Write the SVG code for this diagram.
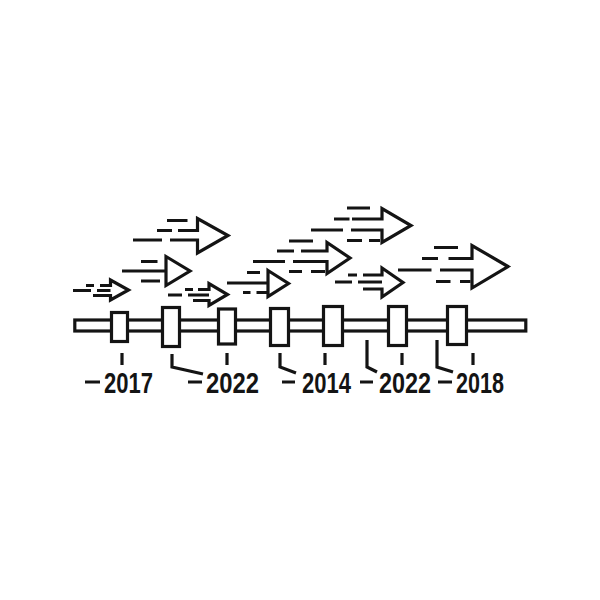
<svg xmlns="http://www.w3.org/2000/svg" width="600" height="600" viewBox="0 0 600 600">
<style>
.s{fill:none;stroke:#141414;stroke-width:3.2;stroke-linejoin:miter;stroke-linecap:butt}
.b{fill:#fff;stroke:#141414;stroke-width:3.2}
.t{font-family:"Liberation Sans",Arial,sans-serif;font-weight:bold;font-size:30px;fill:#141414}
</style>
<rect width="600" height="600" fill="#fff"/>
<g id="arrows">
<g id="arrowA">
<path class="s" d="M178,230.5 H197.5 V218.5 L228,235.5 L197.5,253 V240 H170"/>
<path class="s" d="M167,220.5 H187.5 M157,230.5 H172 M133,240 H162"/>
</g>
<g id="arrowB">
<path class="s" d="M166,256.5 L190,271 L166,285.5 Z"/>
<path class="s" d="M122,271 H166 M141,261.5 H157.5 M141,281 H160"/>
</g>
<g id="arrowC">
<path class="s" d="M100,285.5 H110.5 V280 L128.5,290 L110.5,300 V295.5 H93"/>
<path class="s" d="M86,285.5 H94 M73,290.5 H91 M97,290.5 H110.5"/>
</g>
<g id="arrowD">
<path class="s" d="M198,289.5 H209 V283.5 L227.5,294.5 L209,305.5 V300.5 H193"/>
<path class="s" d="M185,289.5 H193 M168,295 H182 M188,295 H209"/>
</g>
<g id="arrowE">
<path class="s" d="M268,270.5 L288.5,283.5 L268,296.5 Z"/>
<path class="s" d="M227,283 H268 M247,272.5 H260 M243,292.5 H250.5 M256.5,292.5 H268"/>
</g>
<g id="arrowF">
<path class="s" d="M301,251 H327 V242.5 L350,258 L327,273.5 V261.5 H293"/>
<path class="s" d="M289,241 H313 M277,251 H294 M253,261.5 H285 M289,271.5 H302 M311,271.5 H325"/>
</g>
<g id="arrowG">
<path class="s" d="M352,219 H382 V208.5 L411,225.5 L382,242.5 V230 H351"/>
<path class="s" d="M347,208 H370 M334,219 H349.5 M311,230 H343 M347,240.5 H362 M369,240.5 H380"/>
</g>
<g id="arrowH">
<path class="s" d="M363,275 H382 V268 L403,282.5 L382,297 V289 H363"/>
<path class="s" d="M348,275 H357 M335,282 H352 M358,282 H382"/>
</g>
<g id="arrowI">
<path class="s" d="M448.5,258.5 H472 V245.5 L508,266.5 L472,288 V270 H440"/>
<path class="s" d="M434,247.5 H458 M422,258.5 H438 M398,270 H431.5 M436,281.5 H450.5 M460,281.5 H470.5"/>
</g>
</g>
<g id="timeline">
<rect class="b" x="74.8" y="320" width="451" height="11"/>
</g>
<g id="connectors">
<path class="s" d="M122,353 V365 M227,353 V365 M325,353 V365 M402,353 V365 M473,353 V365"/>
<path class="s" d="M172,354 V367 L203,374 M280,353 V367 L296,373 M367,340 V367 L377,372 M437,340 V367 L453,372"/>
<path class="s" d="M85,382 H100 M188,382 H202 M282,382 H295 M360,382 H373 M438,382 H452"/>
</g>
<g id="node1"><rect class="b" x="111.5" y="312.5" width="16" height="29"/></g>
<g id="node2"><rect class="b" x="162.5" y="307.5" width="17" height="39"/></g>
<g id="node3"><rect class="b" x="218.5" y="309" width="17" height="35"/></g>
<g id="node4"><rect class="b" x="270.5" y="308.5" width="18" height="37"/></g>
<g id="node5"><rect class="b" x="323.5" y="306.5" width="19" height="39"/></g>
<g id="node6"><rect class="b" x="388.5" y="306.5" width="18" height="39"/></g>
<g id="node7"><rect class="b" x="447.5" y="306.5" width="19" height="38"/></g>
<g id="labels">
<text class="t" x="104" y="393" textLength="49" lengthAdjust="spacingAndGlyphs">2017</text>
<text class="t" x="206" y="393" textLength="53" lengthAdjust="spacingAndGlyphs">2022</text>
<text class="t" x="302" y="393" textLength="49" lengthAdjust="spacingAndGlyphs">2014</text>
<text class="t" x="379" y="393" textLength="52" lengthAdjust="spacingAndGlyphs">2022</text>
<text class="t" x="456" y="393" textLength="48" lengthAdjust="spacingAndGlyphs">2018</text>
</g>
</svg>
